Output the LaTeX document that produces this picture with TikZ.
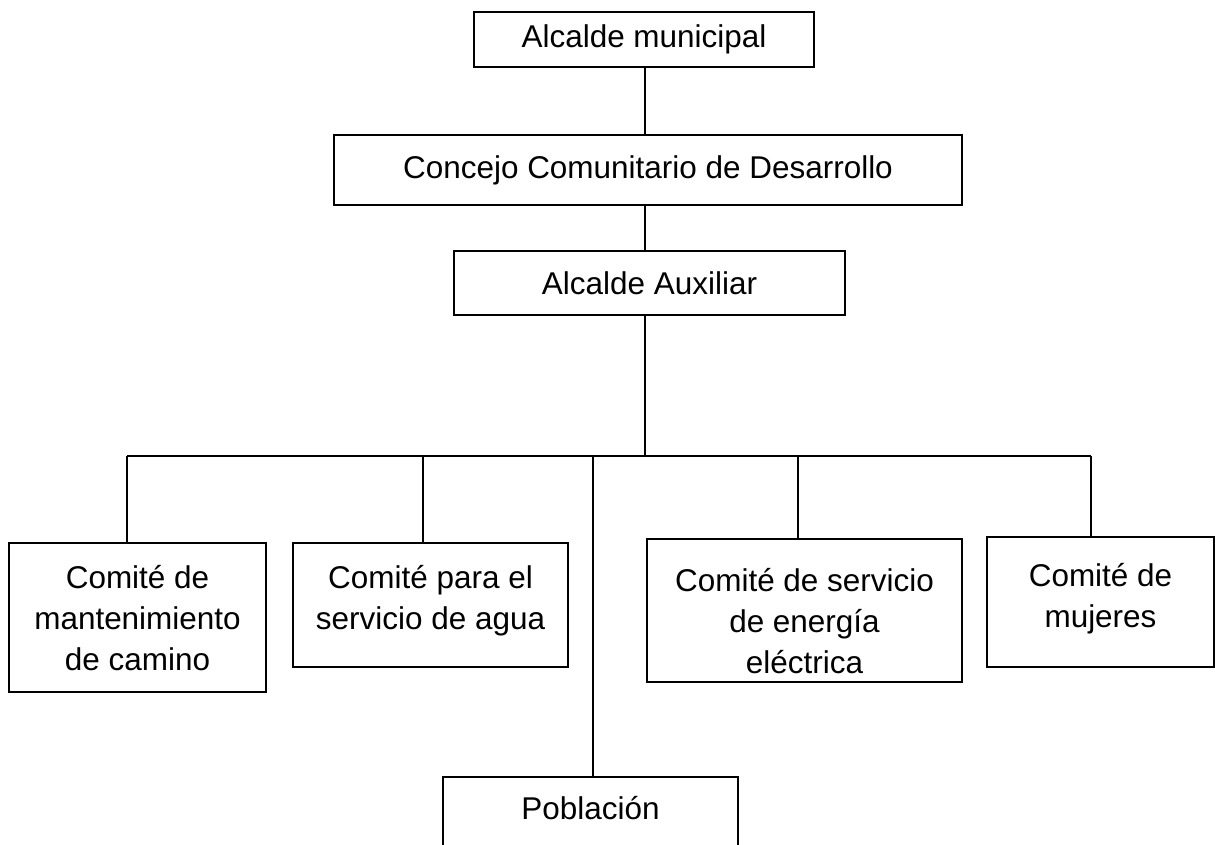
\documentclass[tikz,border=0pt]{standalone}
\usepackage{fontspec}
\setmainfont{Liberation Sans}
\usepackage{tikz}
\newcommand{\caja}[4]{\parbox[c][#1][t]{#2}{\centering\vspace*{#3}\strut #4}}

\begin{document}
\begin{tikzpicture}[x=0.75pt,y=-0.75pt,every node/.style={draw, line width=0.9pt, inner sep=0pt, font=\fontsize{23.6}{30.75}\selectfont},linea/.style={line width=1.8pt}]
  \useasboundingbox (0,0) rectangle (1215,844);
  \node[minimum width=255pt, minimum height=41.25pt] (alcalde) at (644,39.5) {Alcalde municipal};
  \node[minimum width=471pt, minimum height=52.5pt] (concejo) at (648,170) {Concejo Comunitario de Desarrollo};
  \node[minimum width=293.25pt, minimum height=48pt] (auxiliar) at (649.5,283) {Alcalde Auxiliar};
  \node (camino) at (137.5,617.5) {\caja{111.75pt}{192.75pt}{12.75pt}{Comit\'e de\\mantenimiento\\de camino}};
  \node (agua) at (430.5,605) {\caja{93pt}{206.25pt}{12.35pt}{Comit\'e para el\\servicio de agua}};
  \node (energia) at (804.5,610.5) {\caja{107.25pt}{236.25pt}{17.5pt}{Comit\'e de servicio\\de energ\'ia\\el\'ectrica}};
  \node (mujeres) at (1100.5,602) {\caja{97.5pt}{170.25pt}{15.8pt}{Comit\'e de\\mujeres}};
  \node (poblacion) at (590.5,827) {\caja{75pt}{221.25pt}{10pt}{Poblaci\'on}};
  \coordinate (bar) at (645,456);
  \foreach \x/\n in {127/camino, 423/agua, 593/poblacion, 798/energia, 1091/mujeres}
    \coordinate (d\n) at (\x,456);
  \draw[linea] (bar |- alcalde.south) -- (bar |- concejo.north);
  \draw[linea] (bar |- concejo.south) -- (bar |- auxiliar.north);
  \draw[linea] (bar |- auxiliar.south) -- (bar);
  \draw[linea] (dcamino) -- (dmujeres);
  \foreach \n in {camino, agua, poblacion, energia, mujeres}
    \draw[linea] (d\n) -- (d\n |- \n.north);
\end{tikzpicture}
\end{document}
